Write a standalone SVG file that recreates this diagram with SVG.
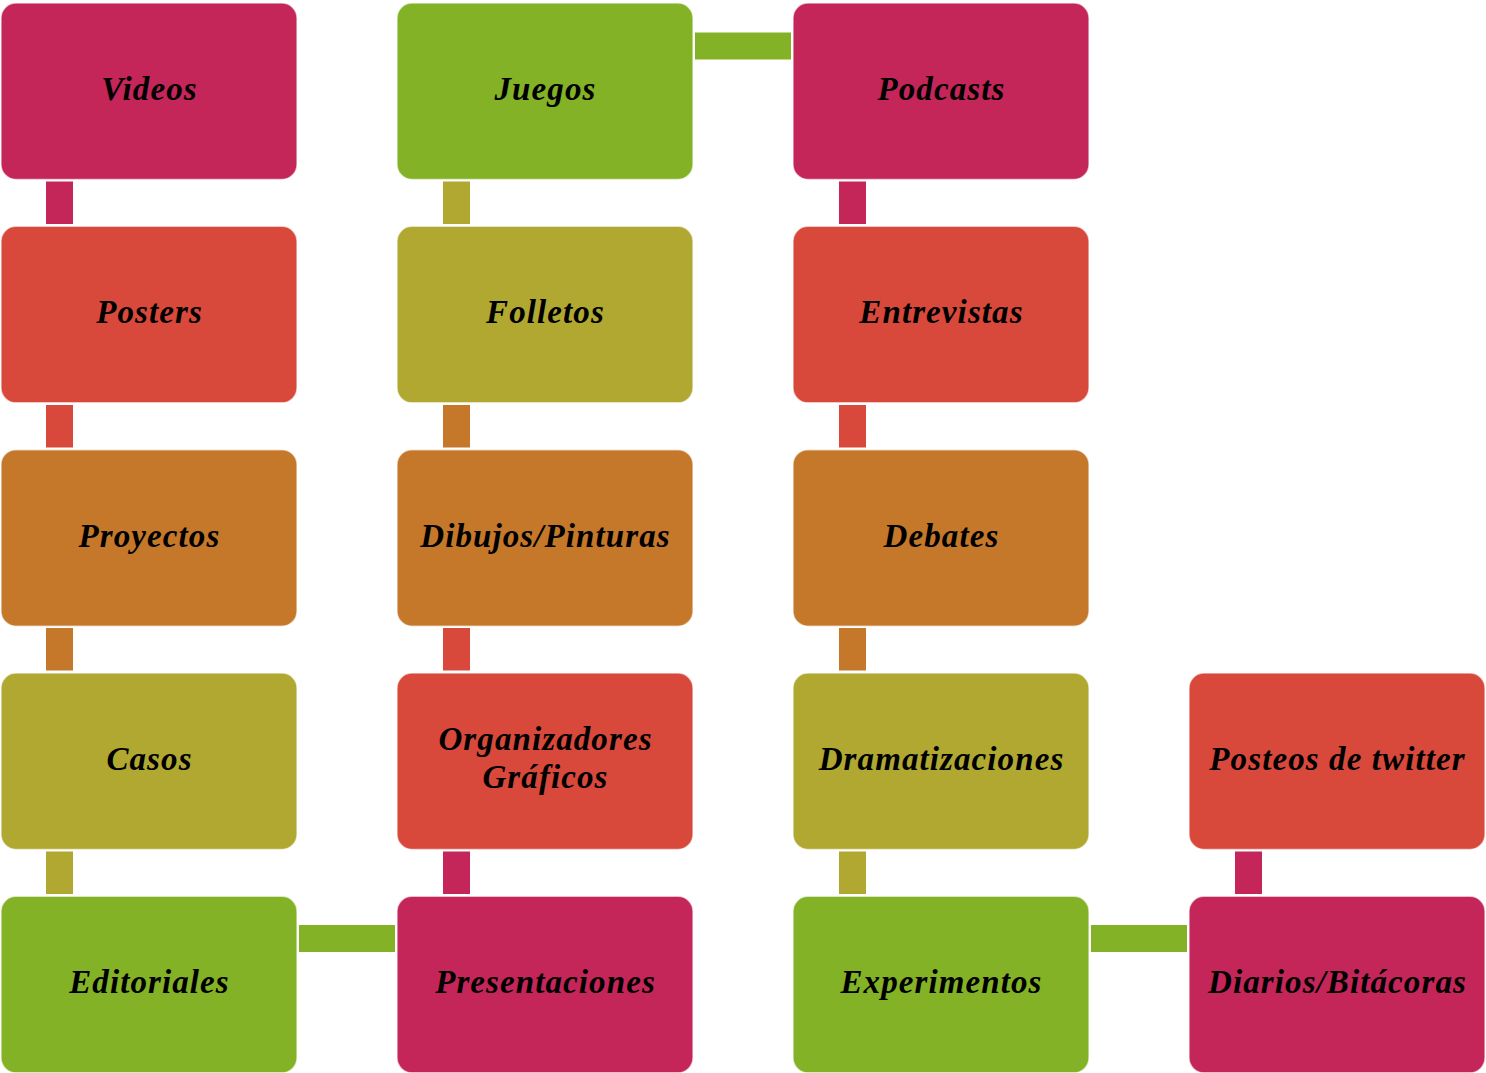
<svg xmlns="http://www.w3.org/2000/svg" width="1486" height="1073" viewBox="0 0 1486 1073">
<style>
.b{stroke:#fff;stroke-opacity:0.6;stroke-width:1.5}
.t{font-family:"Liberation Serif",serif;font-style:italic;font-weight:bold;font-size:33px;letter-spacing:1.1px;fill:#000;text-anchor:middle}
.pk{fill:#C42659}.rd{fill:#D8493B}.or{fill:#C5772A}.ol{fill:#B0A830}.gr{fill:#83B226}
</style>
<rect width="1486" height="1073" fill="#fff"/>
<g id="connectors">
<rect class="pk" x="46" y="181.5" width="27" height="42.5"/>
<rect class="rd" x="46" y="405" width="27" height="42.5"/>
<rect class="or" x="46" y="628" width="27" height="42.5"/>
<rect class="ol" x="46" y="851.5" width="27" height="42.5"/>
<rect class="gr" x="299" y="925" width="96" height="27"/>
<rect class="pk" x="443" y="851.5" width="27" height="42.5"/>
<rect class="rd" x="443" y="628" width="27" height="42.5"/>
<rect class="or" x="443" y="405" width="27" height="42.5"/>
<rect class="ol" x="443" y="181.5" width="27" height="42.5"/>
<rect class="gr" x="695" y="32.5" width="96" height="27"/>
<rect class="pk" x="839" y="181.5" width="27" height="42.5"/>
<rect class="rd" x="839" y="405" width="27" height="42.5"/>
<rect class="or" x="839" y="628" width="27" height="42.5"/>
<rect class="ol" x="839" y="851.5" width="27" height="42.5"/>
<rect class="gr" x="1091" y="925" width="96" height="27"/>
<rect class="pk" x="1235" y="851.5" width="27" height="42.5"/>
</g>
<g id="videos"><rect class="b pk" x="1" y="3" width="296" height="176.5" rx="15"/><text class="t" x="149.5" y="100">Videos</text></g>
<g id="posters"><rect class="b rd" x="1" y="226.3" width="296" height="176.5" rx="15"/><text class="t" x="149.5" y="323.3">Posters</text></g>
<g id="proyectos"><rect class="b or" x="1" y="449.7" width="296" height="176.5" rx="15"/><text class="t" x="149.5" y="546.7">Proyectos</text></g>
<g id="casos"><rect class="b ol" x="1" y="673" width="296" height="176.5" rx="15"/><text class="t" x="149.5" y="770">Casos</text></g>
<g id="editoriales"><rect class="b gr" x="1" y="896.3" width="296" height="176.5" rx="15"/><text class="t" x="149.5" y="993.3">Editoriales</text></g>
<g id="juegos"><rect class="b gr" x="397" y="3" width="296" height="176.5" rx="15"/><text class="t" x="545.5" y="100">Juegos</text></g>
<g id="folletos"><rect class="b ol" x="397" y="226.3" width="296" height="176.5" rx="15"/><text class="t" x="545.5" y="323.3">Folletos</text></g>
<g id="dibujos"><rect class="b or" x="397" y="449.7" width="296" height="176.5" rx="15"/><text class="t" x="545.5" y="546.7">Dibujos/Pinturas</text></g>
<g id="organizadores"><rect class="b rd" x="397" y="673" width="296" height="176.5" rx="15"/><text class="t" x="545.5" y="750">Organizadores</text><text class="t" x="545.5" y="788">Gráficos</text></g>
<g id="presentaciones"><rect class="b pk" x="397" y="896.3" width="296" height="176.5" rx="15"/><text class="t" x="545.5" y="993.3">Presentaciones</text></g>
<g id="podcasts"><rect class="b pk" x="793" y="3" width="296" height="176.5" rx="15"/><text class="t" x="941.5" y="100">Podcasts</text></g>
<g id="entrevistas"><rect class="b rd" x="793" y="226.3" width="296" height="176.5" rx="15"/><text class="t" x="941.5" y="323.3">Entrevistas</text></g>
<g id="debates"><rect class="b or" x="793" y="449.7" width="296" height="176.5" rx="15"/><text class="t" x="941.5" y="546.7">Debates</text></g>
<g id="dramatizaciones"><rect class="b ol" x="793" y="673" width="296" height="176.5" rx="15"/><text class="t" x="941.5" y="770">Dramatizaciones</text></g>
<g id="experimentos"><rect class="b gr" x="793" y="896.3" width="296" height="176.5" rx="15"/><text class="t" x="941.5" y="993.3">Experimentos</text></g>
<g id="posteos"><rect class="b rd" x="1189" y="673" width="296" height="176.5" rx="15"/><text class="t" x="1337.5" y="770">Posteos de twitter</text></g>
<g id="diarios"><rect class="b pk" x="1189" y="896.3" width="296" height="176.5" rx="15"/><text class="t" x="1337.5" y="993.3">Diarios/Bitácoras</text></g>
</svg>
